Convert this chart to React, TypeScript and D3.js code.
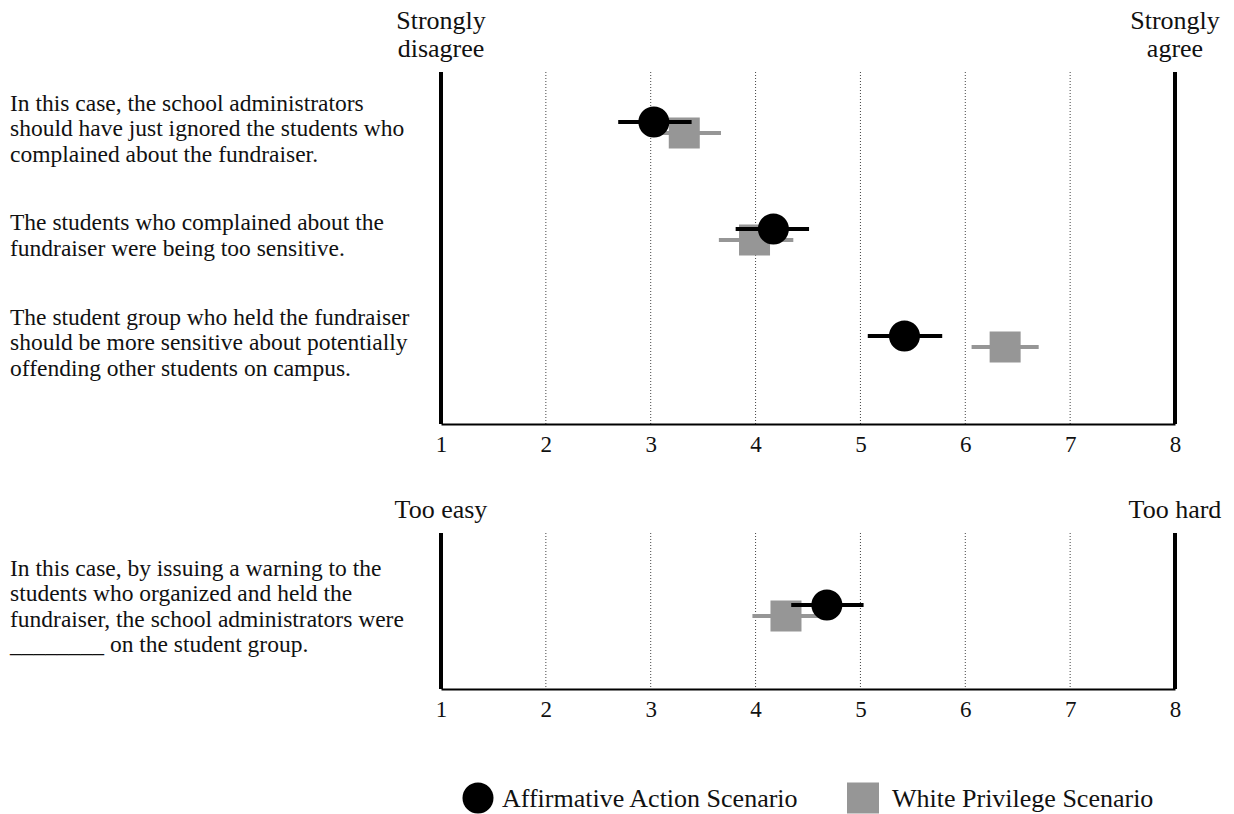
import React, { useEffect, useRef } from "react";
import * as d3 from "d3";

const topItems: string[][] = [
    ["In this case, the school administrators", "should have just ignored the students who", "complained about the fundraiser."],
    ["The students who complained about the", "fundraiser were being too sensitive."],
    ["The student group who held the fundraiser", "should be more sensitive about potentially", "offending other students on campus."],
];
const bottomItems: string[][] = [
    ["In this case, by issuing a warning to the", "students who organized and held the", "fundraiser, the school administrators were", "________ on the student group."],
];

// means and 95% intervals
const aaTop = [3.03, 4.17, 5.42];
const aaTopLo = [2.69, 3.81, 5.07];
const aaTopHi = [3.39, 4.51, 5.78];
const wpTop = [3.32, 3.99, 6.38];
const wpTopLo = [2.97, 3.65, 6.06];
const wpTopHi = [3.67, 4.36, 6.70];

const aaBottom = [4.68];
const aaBottomLo = [4.34];
const aaBottomHi = [5.03];
const wpBottom = [4.29];
const wpBottomLo = [3.97];
const wpBottomHi = [4.61];

const ticks = [1, 2, 3, 4, 5, 6, 7, 8];
const seriesNames = ["Affirmative Action Scenario", "White Privilege Scenario"];

const FONT = "'Liberation Serif', 'Times New Roman', serif";
const GRAY = "#969696";

const App: React.FC = () => {
    const svgRef = useRef<SVGSVGElement | null>(null);

    useEffect(() => {
        if (!svgRef.current) return;
        const svg = d3.select(svgRef.current);
        svg.selectAll("*").remove();

        const width = 1234;
        const height = 814;
        svg.attr("width", width).attr("height", height);

        const x = d3.scaleLinear().domain([1, 8]).range([441, 1175]);

        const drawPanel = (
            top: number,
            bottom: number,
            rowY: number[],
            labelShift: number,
            labels: string[][],
            leftHead: string[],
            rightHead: string[],
            aa: number[], aaLo: number[], aaHi: number[],
            wp: number[], wpLo: number[], wpHi: number[]
        ) => {
            const g = svg.append("g");

            // inner dotted grid lines
            g.selectAll("line.grid")
                .data(ticks.slice(1, -1))
                .join("line")
                .attr("class", "grid")
                .attr("x1", (d) => x(d))
                .attr("x2", (d) => x(d))
                .attr("y1", top)
                .attr("y2", bottom)
                .attr("stroke", "#444")
                .attr("stroke-width", 1)
                .attr("stroke-dasharray", "1,2");

            // thick end lines
            g.selectAll("line.end")
                .data([1, 8])
                .join("line")
                .attr("class", "end")
                .attr("x1", (d) => x(d))
                .attr("x2", (d) => x(d))
                .attr("y1", top)
                .attr("y2", bottom)
                .attr("stroke", "#000")
                .attr("stroke-width", 4);

            // axis
            const axis = g.append("g")
                .attr("transform", `translate(0,${bottom})`)
                .call(d3.axisBottom(x).tickValues(ticks).tickSize(0).tickPadding(12).tickFormat(d3.format("d")));
            axis.select(".domain").attr("stroke", "#000").attr("stroke-width", 2);
            axis.selectAll("text")
                .style("font-family", FONT)
                .attr("font-size", "23px")
                .attr("fill", "#111");

            // header labels
            const heads = [
                { v: 1, lines: leftHead },
                { v: 8, lines: rightHead },
            ];
            heads.forEach((h) => {
                h.lines.forEach((ln, i) => {
                    g.append("text")
                        .attr("x", x(h.v))
                        .attr("y", top - 15 - (h.lines.length - 1 - i) * 28)
                        .attr("text-anchor", "middle")
                        .style("font-family", FONT)
                        .attr("font-size", "26px")
                        .attr("fill", "#111")
                        .text(ln);
                });
            });

            // item labels
            labels.forEach((lines, r) => {
                const n = lines.length;
                lines.forEach((ln, i) => {
                    g.append("text")
                        .attr("x", 10)
                        .attr("y", rowY[r] + labelShift + (i - (n - 1) / 2) * 25.5)
                        .attr("dy", "0.35em")
                        .style("font-family", FONT)
                        .attr("font-size", "23.5px")
                        .attr("fill", "#111")
                        .text(ln);
                });
            });

            // white privilege (gray square), drawn first
            g.selectAll("line.wp")
                .data(wp)
                .join("line")
                .attr("class", "wp")
                .attr("x1", (_, i) => x(wpLo[i]))
                .attr("x2", (_, i) => x(wpHi[i]))
                .attr("y1", (_, i) => rowY[i] + 5)
                .attr("y2", (_, i) => rowY[i] + 5)
                .attr("stroke", GRAY)
                .attr("stroke-width", 4);
            g.selectAll("rect.wp")
                .data(wp)
                .join("rect")
                .attr("class", "wp")
                .attr("x", (d) => x(d) - 15.5)
                .attr("y", (_, i) => rowY[i] + 5 - 15.5)
                .attr("width", 31)
                .attr("height", 31)
                .attr("fill", GRAY);

            // affirmative action (black circle)
            g.selectAll("line.aa")
                .data(aa)
                .join("line")
                .attr("class", "aa")
                .attr("x1", (_, i) => x(aaLo[i]))
                .attr("x2", (_, i) => x(aaHi[i]))
                .attr("y1", (_, i) => rowY[i] - 6)
                .attr("y2", (_, i) => rowY[i] - 6)
                .attr("stroke", "#000")
                .attr("stroke-width", 4);
            g.selectAll("circle.aa")
                .data(aa)
                .join("circle")
                .attr("class", "aa")
                .attr("cx", (d) => x(d))
                .attr("cy", (_, i) => rowY[i] - 6)
                .attr("r", 15.5)
                .attr("fill", "#000");
        };

        drawPanel(72, 424, [128, 235, 342], 0, topItems, ["Strongly", "disagree"], ["Strongly", "agree"],
            aaTop, aaTopLo, aaTopHi, wpTop, wpTopLo, wpTopHi);
        drawPanel(533, 689, [611], -5, bottomItems, ["Too easy"], ["Too hard"],
            aaBottom, aaBottomLo, aaBottomHi, wpBottom, wpBottomLo, wpBottomHi);

        // legend
        const lg = svg.append("g").attr("transform", "translate(0,798)");
        lg.append("circle").attr("cx", 478).attr("cy", 0).attr("r", 15.5).attr("fill", "#000");
        lg.append("text")
            .attr("x", 502).attr("y", 0).attr("dy", "0.35em")
            .style("font-family", FONT).attr("font-size", "26px").attr("fill", "#111")
            .text(seriesNames[0]);
        lg.append("rect").attr("x", 847).attr("y", -15.5).attr("width", 32).attr("height", 31).attr("fill", GRAY);
        lg.append("text")
            .attr("x", 892).attr("y", 0).attr("dy", "0.35em")
            .style("font-family", FONT).attr("font-size", "26px").attr("fill", "#111")
            .text(seriesNames[1]);
    }, []);

    return (
        <svg ref={svgRef} style={{ position: "absolute", left: 0, top: 0, background: "#fff" }}></svg>
    );
};

export default App;
